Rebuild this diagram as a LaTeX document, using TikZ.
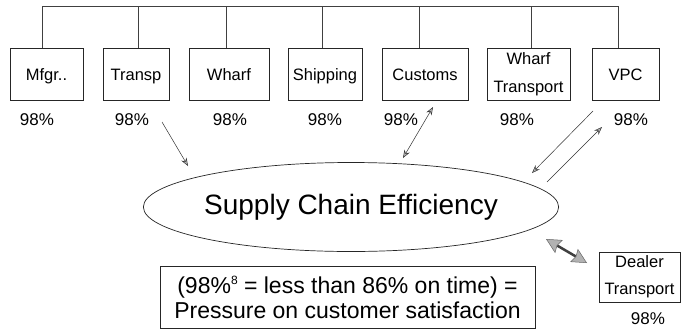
\documentclass[tikz,border=0pt]{standalone}
\usepackage{fontspec}
\setmainfont{Liberation Sans}
\usetikzlibrary{arrows.meta,shapes.geometric}
\begin{document}
\begin{tikzpicture}[x=1pt,y=-1pt,
  box/.style={draw=black!85,line width=0.7pt,inner sep=0pt,font=\fontsize{16.5}{28}\selectfont,align=center,minimum height=52pt},
  oneline/.style={text height=16pt,text depth=4pt},
  pct/.style={inner sep=0pt,font=\fontsize{17}{20}\selectfont},
  bus/.style={draw=black!75,line width=0.6pt},
  arr/.style={draw=black!80,line width=0.5pt,-{Stealth[length=8pt,width=6pt,fill=gray!60]}},
  darr/.style={draw=black!80,line width=0.5pt,{Stealth[length=8pt,width=6pt,fill=gray!60]}-{Stealth[length=8pt,width=6pt,fill=gray!60]}},
  fatarr/.style={draw=black!75,line width=2.5pt,{Stealth[length=15pt,width=15pt,inset=2pt,fill=gray!60,color=gray!80!black,line width=0.5pt]}-{Stealth[length=15pt,width=15pt,inset=2pt,fill=gray!60,color=gray!80!black,line width=0.5pt]}}
]
\useasboundingbox (0,0) rectangle (683,330);
\fill[white] (0,0) rectangle (683,330);

% top boxes
\node[box,oneline,minimum width=73pt] (mfgr) at (46.5,74) {Mfgr..};
\node[box,oneline,minimum width=66pt] (transp) at (136,74) {Transp};
\node[box,oneline,minimum width=80pt] (wharf) at (229,74) {Wharf};
\node[box,oneline,minimum width=74pt] (ship) at (325,74) {Shipping};
\node[box,oneline,minimum width=86pt] (cust) at (425,74) {Customs};
\node[box,minimum width=83pt] (wt) at (528.5,74) {Wharf\\Transport};
\node[box,oneline,minimum width=67pt] (vpc) at (625.5,74) {VPC};

% percentages
\node[pct] (p1) at (37,120) {98\%};
\node[pct] (p2) at (132,120) {98\%};
\node[pct] (p3) at (230,120) {98\%};
\node[pct] (p4) at (325,120) {98\%};
\node[pct] (p5) at (401,120) {98\%};
\node[pct] (p6) at (517,120) {98\%};
\node[pct] (p7) at (631,120) {98\%};

% bus at top
\coordinate (bus) at (0,6);
\draw[bus] ([xshift=-4.5pt]mfgr.north) -- ([xshift=-4.5pt]mfgr.north |- bus) -- ([xshift=-7.5pt]vpc.north |- bus) -- ([xshift=-7.5pt]vpc.north);
\draw[bus] ([xshift=2pt]transp.north) -- ([xshift=2pt]transp.north |- bus);
\draw[bus] ([xshift=-3pt]wharf.north) -- ([xshift=-3pt]wharf.north |- bus);
\draw[bus] ([xshift=-3pt]ship.north) -- ([xshift=-3pt]ship.north |- bus);
\draw[bus] ([xshift=-6pt]cust.north) -- ([xshift=-6pt]cust.north |- bus);
\draw[bus] ([xshift=2.5pt]wt.north) -- ([xshift=2.5pt]wt.north |- bus);

% ellipse
\node[draw=black!85,line width=0.7pt,ellipse,minimum width=408pt,minimum height=89pt,inner sep=0pt,font=\fontsize{28}{32}\selectfont] (sce) at (351,207) {Supply Chain Efficiency};

% bottom box
\node[draw=black!85,line width=0.7pt,minimum width=375pt,minimum height=62pt,inner sep=0pt,align=center,font=\fontsize{23}{25}\selectfont] (note) at (347.5,297) {(98\%\raisebox{0.75ex}{\fontsize{12}{12}\selectfont 8} = less than 86\% on time) =\\Pressure on customer satisfaction};

% dealer transport
\node[box,minimum width=81pt,minimum height=50pt,font=\fontsize{16.5}{27}\selectfont] (dealer) at (639.5,277) {Dealer\\Transport};
\node[pct] (p8) at (648,319) {98\%};

% arrow coordinates
\coordinate (a1s) at (162,122);
\coordinate (a1e) at (188,166);
\coordinate (a2s) at (433,107);
\coordinate (a2e) at (403,158);
\coordinate (a3s) at (593,111);
\coordinate (a3e) at (532,173);
\coordinate (a4s) at (547,182);
\coordinate (a4e) at (602,127);
\coordinate (a5s) at (546,239);
\coordinate (a5e) at (587,263);

\draw[arr] (a1s) -- (a1e);
\draw[darr] (a2s) -- (a2e);
\draw[arr] (a3s) -- (a3e);
\draw[arr] (a4s) -- (a4e);
\draw[fatarr] (a5s) -- (a5e);
\end{tikzpicture}
\end{document}
